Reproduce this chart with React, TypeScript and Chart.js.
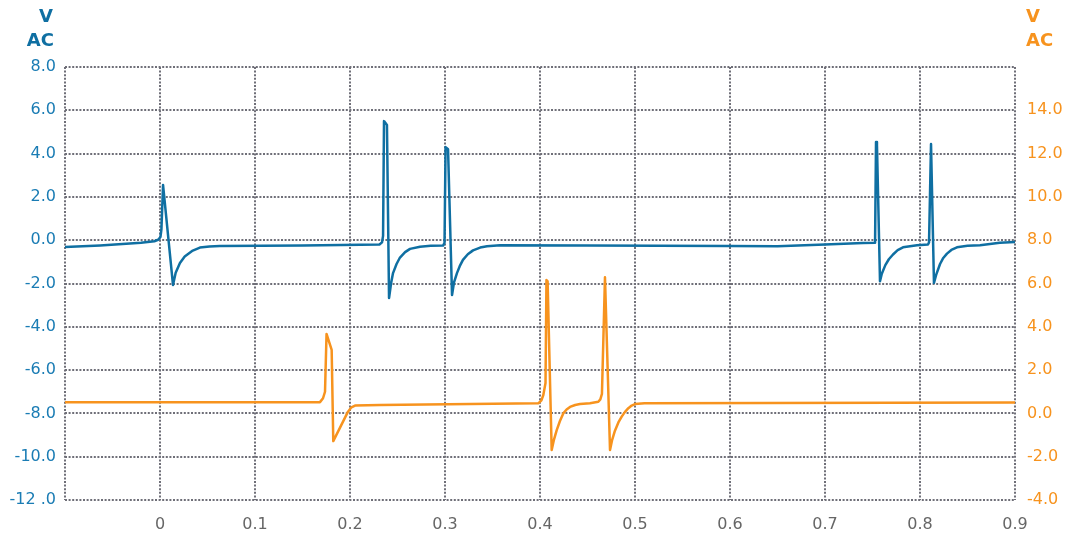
import React, { useEffect, useRef } from "react";
import { Chart, registerables } from "chart.js";

Chart.register(...registerables);

const blueTime = [
  -0.1, -0.063, -0.02, -0.006, -0.002, 0.0005, 0.0015, 0.0032, 0.0137, 0.0165, 0.021, 0.026,
  0.0345, 0.042, 0.052, 0.063,
  0.15, 0.231, 0.2337, 0.2348, 0.2358, 0.2389, 0.2411, 0.2432, 0.2453, 0.249, 0.2526, 0.258,
  0.2632, 0.2737, 0.285,
  0.298, 0.2995, 0.3006, 0.3032, 0.3074, 0.3095, 0.3126, 0.3155, 0.3189, 0.324, 0.3295,
  0.337, 0.3442, 0.358,
  0.45, 0.6, 0.65, 0.7, 0.74, 0.7527, 0.7537, 0.7547, 0.7579, 0.7598, 0.7635, 0.7672, 0.7716,
  0.7765, 0.7821, 0.7968,
  0.8084, 0.8095, 0.8116, 0.8147, 0.817, 0.8211, 0.8245, 0.8284, 0.833, 0.8389, 0.85, 0.8632,
  0.884, 0.9,
];
const blueVolts = [
  -0.31, -0.24, -0.12, -0.05, 0.02, 0.15, 0.5, 2.55, -2.07, -1.5, -1.05, -0.75,
  -0.48, -0.34, -0.29, -0.27,
  -0.24, -0.2, -0.1, 0.2, 5.5, 5.32, -2.67, -2.0, -1.52, -1.1, -0.8, -0.55,
  -0.4, -0.3, -0.26,
  -0.25, -0.12, 4.3, 4.2, -2.53, -1.95, -1.52, -1.2, -0.91, -0.65, -0.47,
  -0.34, -0.28, -0.23,
  -0.24, -0.27, -0.28, -0.2, -0.13, -0.12, 4.54, 4.4, -1.9, -1.55, -1.15, -0.88, -0.66,
  -0.46, -0.33, -0.23,
  -0.2, -0.1, 4.44, -1.97, -1.6, -1.1, -0.82, -0.62, -0.45, -0.33, -0.26, -0.23,
  -0.12, -0.08,
];

const orangeTime = [
  -0.1, 0.1684, 0.1716, 0.1737, 0.1753, 0.1807, 0.1824, 0.1979, 0.2015, 0.2053, 0.2316,
  0.3985, 0.4015, 0.4035, 0.4058, 0.4068, 0.408, 0.4123, 0.4145, 0.4176, 0.421, 0.4245,
  0.428, 0.4316, 0.437, 0.4421, 0.4526,
  0.4614, 0.4635, 0.4652, 0.4684, 0.4737, 0.4758, 0.4789, 0.4825, 0.486, 0.4895, 0.493,
  0.4965, 0.5, 0.51, 0.9,
];
const orangeVolts = [
  0.52, 0.52, 0.7, 1.0, 3.67, 2.93, -1.28, 0.08, 0.28, 0.36, 0.39,
  0.47, 0.6, 0.85, 1.4, 6.16, 6.1, -1.69, -1.25, -0.77, -0.35, 0.0,
  0.18, 0.3, 0.39, 0.43, 0.47,
  0.54, 0.65, 0.9, 6.29, -1.69, -1.25, -0.8, -0.42, -0.15, 0.07, 0.24,
  0.36, 0.43, 0.47, 0.5,
];

const leftTicks = [-12, -10, -8, -6, -4, -2, 0, 2, 4, 6, 8];
const rightTicks = [-4, -2, 0, 2, 4, 6, 8, 10, 12, 14, 16];
const xTicks = [-0.1, 0, 0.1, 0.2, 0.3, 0.4, 0.5, 0.6, 0.7, 0.8, 0.9];

const BLUE = "#0f6fa2";
const BLUE_TEXT = "#1a7cb4";
const ORANGE = "#f7931e";
const GRID = "#6f6f78";
const FONT = "'DejaVu Sans', sans-serif";

const titlePlugin = {
  id: "axisTitles",
  afterDraw(chart: any) {
    const { ctx, chartArea } = chart;
    ctx.save();
    ctx.font = `bold 18px ${FONT}`;
    ctx.textBaseline = "middle";
    ctx.fillStyle = BLUE;
    ctx.textAlign = "right";
    ctx.fillText("V", chartArea.left - 12, 17);
    ctx.fillText("AC", chartArea.left - 11, 41);
    ctx.fillStyle = ORANGE;
    ctx.textAlign = "left";
    ctx.fillText("V", chartArea.right + 11, 17);
    ctx.fillText("AC", chartArea.right + 11, 41);
    ctx.restore();
  },
};

export default function App() {
  const ref = useRef<HTMLCanvasElement | null>(null);

  useEffect(() => {
    if (!ref.current) return;
    const chart = new Chart(ref.current, {
      type: "line",
      data: {
        datasets: [
          {
            label: "Blue",
            data: blueTime.map((t, i) => ({ x: t, y: blueVolts[i] })),
            borderColor: BLUE,
            borderWidth: 2.5,
            pointRadius: 0,
            tension: 0,
            borderJoinStyle: "round",
            yAxisID: "y",
          },
          {
            label: "Orange",
            data: orangeTime.map((t, i) => ({ x: t, y: orangeVolts[i] })),
            borderColor: ORANGE,
            borderWidth: 2.5,
            pointRadius: 0,
            tension: 0,
            borderJoinStyle: "round",
            yAxisID: "y2",
          },
        ],
      },
      options: {
        animation: false,
        responsive: true,
        maintainAspectRatio: false,
        layout: { padding: { top: 67, left: 0, right: 0, bottom: 0 } },
        plugins: { legend: { display: false }, tooltip: { enabled: false } },
        scales: {
          x: {
            type: "linear",
            min: -0.1,
            max: 0.9,
            afterBuildTicks: (s: any) => {
              s.ticks = xTicks.map((v) => ({ value: v }));
            },
            afterFit: (s: any) => {
              s.height = 37;
            },
            ticks: {
              padding: 15,
              color: "#666666",
              font: { family: FONT, size: 16 },
              maxRotation: 0,
              autoSkip: false,
              callback: (v: any) => {
                const n = Number(v);
                if (n < -0.05) return "";
                if (Math.abs(n) < 1e-9) return "0";
                return n.toFixed(1);
              },
            },
            grid: {
              color: GRID,
              lineWidth: 2,
              drawTicks: false,
            },
            border: { display: false, dash: [2, 1.6] },
          },
          y: {
            type: "linear",
            position: "left",
            min: -12,
            max: 8,
            afterBuildTicks: (s: any) => {
              s.ticks = leftTicks.map((v) => ({ value: v }));
            },
            afterFit: (s: any) => {
              s.width = 65;
            },
            ticks: {
              padding: 9,
              color: BLUE_TEXT,
              font: { family: FONT, size: 16 },
              callback: (v: any) => (Number(v) === -12 ? "-12 .0" : Number(v).toFixed(1)),
            },
            grid: {
              color: GRID,
              lineWidth: 2,
              drawTicks: false,
            },
            border: { display: false, dash: [2, 1.6] },
          },
          y2: {
            type: "linear",
            position: "right",
            min: -4,
            max: 16,
            afterBuildTicks: (s: any) => {
              s.ticks = rightTicks.map((v) => ({ value: v }));
            },
            afterFit: (s: any) => {
              s.width = 50;
            },
            ticks: {
              padding: 12,
              color: ORANGE,
              font: { family: FONT, size: 16 },
              callback: (v: any) => (Number(v) === 16 ? "" : Number(v).toFixed(1)),
            },
            grid: { display: false, drawTicks: false },
            border: { display: false },
          },
        },
      } as any,
      plugins: [titlePlugin],
    });
    return () => chart.destroy();
  }, []);

  return (
    <div style={{ position: "absolute", left: 0, top: 0, width: 1065, height: 537 }}>
      <canvas ref={ref} />
    </div>
  );
}
